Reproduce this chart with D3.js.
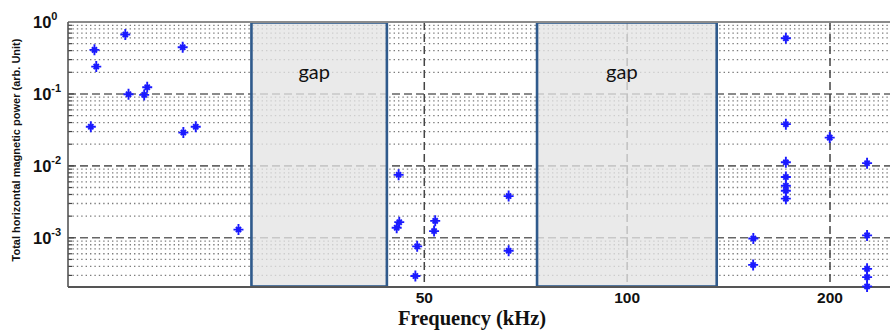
<!DOCTYPE html>
<html>
<head>
<meta charset="utf-8">
<script src="https://cdn.jsdelivr.net/npm/d3@7"></script>
<style>
  html, body { margin: 0; padding: 0; background: #fff; }
  svg { display: block; }
</style>
</head>
<body>
<svg id="chart" width="890" height="335"></svg>
<script>
// ---- data ----
const freq  = [16.2, 16.3, 18.0, 18.2, 19.2, 19.4, 21.9, 16.0, 21.95, 22.9,
               26.5, 45.8, 45.9, 45.5, 51.9, 51.7, 66.7, 48.8, 66.7, 48.5,
               172, 172, 199.8, 172, 227, 172, 172, 172, 172, 153.9,
               227, 153.8, 227, 227, 227];
const power = [0.41, 0.24, 0.67, 0.099, 0.097, 0.124, 0.445, 0.035, 0.029, 0.035,
               0.0013, 0.0075, 0.00165, 0.00138, 0.00172, 0.00124, 0.0038, 0.00076, 0.00066, 0.000294,
               0.594, 0.038, 0.0247, 0.0112, 0.0109, 0.0070, 0.0053, 0.0045, 0.0035, 0.00098,
               0.00108, 0.00042, 0.00037, 0.000284, 0.000211];
const gapStart = [27.7, 73.5];
const gapEnd   = [44.0, 135.8];
const gapLabel = ["gap", "gap"];
const xTicks = [50, 100, 200];
const yExponents = [0, -1, -2, -3];
const xTitle = "Frequency (kHz)";
const yTitle = "Total horizontal magnetic power (arb. Unit)";

// ---- layout ----
const L = 68, R = 890, T = 22, B = 287;
const svg = d3.select("#chart");
const x = d3.scaleLog().domain([14.8, 245.5]).range([L, R]);
const y = d3.scaleLog().domain([2.07e-4, 1]).range([B, T]);

// minor horizontal dotted grid
const minorVals = [];
for (let e = -4; e <= -1; e++) for (let m = 2; m <= 9; m++) {
  const v = m * Math.pow(10, e);
  if (v >= y.domain()[0] && v <= 1) minorVals.push(v);
}
svg.append("g").selectAll("line").data(minorVals).join("line")
  .attr("x1", L).attr("x2", R)
  .attr("y1", d => y(d)).attr("y2", d => y(d))
  .attr("stroke", "#7d7d7d").attr("stroke-width", 1.3)
  .attr("stroke-dasharray", "1.4,3");

// major horizontal dashed grid
const majorVals = yExponents.map(e => Math.pow(10, e));
svg.append("g").selectAll("line").data(majorVals.filter(v => v < 1)).join("line")
  .attr("x1", L).attr("x2", R)
  .attr("y1", d => y(d)).attr("y2", d => y(d))
  .attr("stroke", "#666").attr("stroke-width", 1.6)
  .attr("stroke-dasharray", "8,4");

// vertical dashed grid
svg.append("g").selectAll("line").data(xTicks).join("line")
  .attr("x1", d => x(d)).attr("x2", d => x(d))
  .attr("y1", T).attr("y2", B)
  .attr("stroke", "#444").attr("stroke-width", 1.5)
  .attr("stroke-dasharray", "8,4");

// gap boxes
const gaps = gapStart.map((s, i) => ({s, e: gapEnd[i], label: gapLabel[i]}));
const gg = svg.append("g");
gg.selectAll("rect").data(gaps).join("rect")
  .attr("x", d => x(d.s)).attr("width", d => x(d.e) - x(d.s))
  .attr("y", T + 0.5).attr("height", B - T - 1)
  .attr("fill", "#e4e4e4").attr("fill-opacity", 0.78)
  .attr("stroke", "#2f5a8c").attr("stroke-width", 2.6);
gg.selectAll("text").data(gaps).join("text")
  .attr("x", d => (x(d.s) + x(d.e)) / 2 - 5)
  .attr("y", 79)
  .attr("text-anchor", "middle")
  .attr("font-family", "Lato, 'Open Sans', sans-serif")
  .attr("font-size", 20)
  .attr("fill", "#111")
  .text(d => d.label);

// left axis minor/major tick marks (inward)
svg.append("g").selectAll("line").data(minorVals.concat(majorVals)).join("line")
  .attr("x1", L).attr("x2", d => L + (majorVals.includes(d) ? 6 : 4))
  .attr("y1", d => y(d)).attr("y2", d => y(d))
  .attr("stroke", "#444").attr("stroke-width", 1.2);

// borders
svg.append("line").attr("x1", L).attr("x2", R).attr("y1", T).attr("y2", T)
  .attr("stroke", "#8c8c8c").attr("stroke-width", 2);
svg.append("line").attr("x1", L).attr("x2", L).attr("y1", T).attr("y2", B)
  .attr("stroke", "#555").attr("stroke-width", 1.6);
svg.append("line").attr("x1", L).attr("x2", R).attr("y1", B).attr("y2", B)
  .attr("stroke", "#555").attr("stroke-width", 2);

// points (star markers)
const pts = freq.map((f, i) => ({f, p: power[i]}));
const star = "M-5,0L5,0M0,-5.5L0,5.5M-2.6,-2.6L2.6,2.6M-2.6,2.6L2.6,-2.6";
svg.append("g").selectAll("path").data(pts).join("path")
  .attr("transform", d => `translate(${x(d.f)},${y(d.p)})`)
  .attr("d", star)
  .attr("stroke", "#1a1aff").attr("stroke-width", 1.9)
  .attr("fill", "none");

// y tick labels 10^n
const yl = svg.append("g").attr("font-family", "Arial, 'Liberation Sans', sans-serif")
  .attr("font-weight", "bold").attr("fill", "#111");
yExponents.forEach(e => {
  const t = yl.append("text")
    .attr("x", 33).attr("y", y(Math.pow(10, e)) + 6)
    .attr("font-size", 16.5);
  t.append("tspan").text("10");
  t.append("tspan").attr("dy", -8).attr("font-size", 11).text(String(e));
});

// x tick labels
svg.append("g").selectAll("text").data(xTicks).join("text")
  .attr("x", d => x(d)).attr("y", 303)
  .attr("text-anchor", "middle")
  .attr("font-family", "Arial, 'Liberation Sans', sans-serif")
  .attr("font-weight", "bold").attr("font-size", 15.5).attr("fill", "#111")
  .text(d => d);

// axis titles
svg.append("text")
  .attr("x", 472).attr("y", 325)
  .attr("text-anchor", "middle")
  .attr("font-family", "'Liberation Serif', 'Times New Roman', serif")
  .attr("font-weight", "bold").attr("font-size", 20.5).attr("fill", "#111")
  .text(xTitle);
svg.append("text")
  .attr("transform", "translate(20,150) rotate(-90)")
  .attr("text-anchor", "middle")
  .attr("font-family", "Arial, 'Liberation Sans', sans-serif")
  .attr("font-weight", "bold").attr("font-size", 11).attr("fill", "#111")
  .text(yTitle);
</script>
</body>
</html>
